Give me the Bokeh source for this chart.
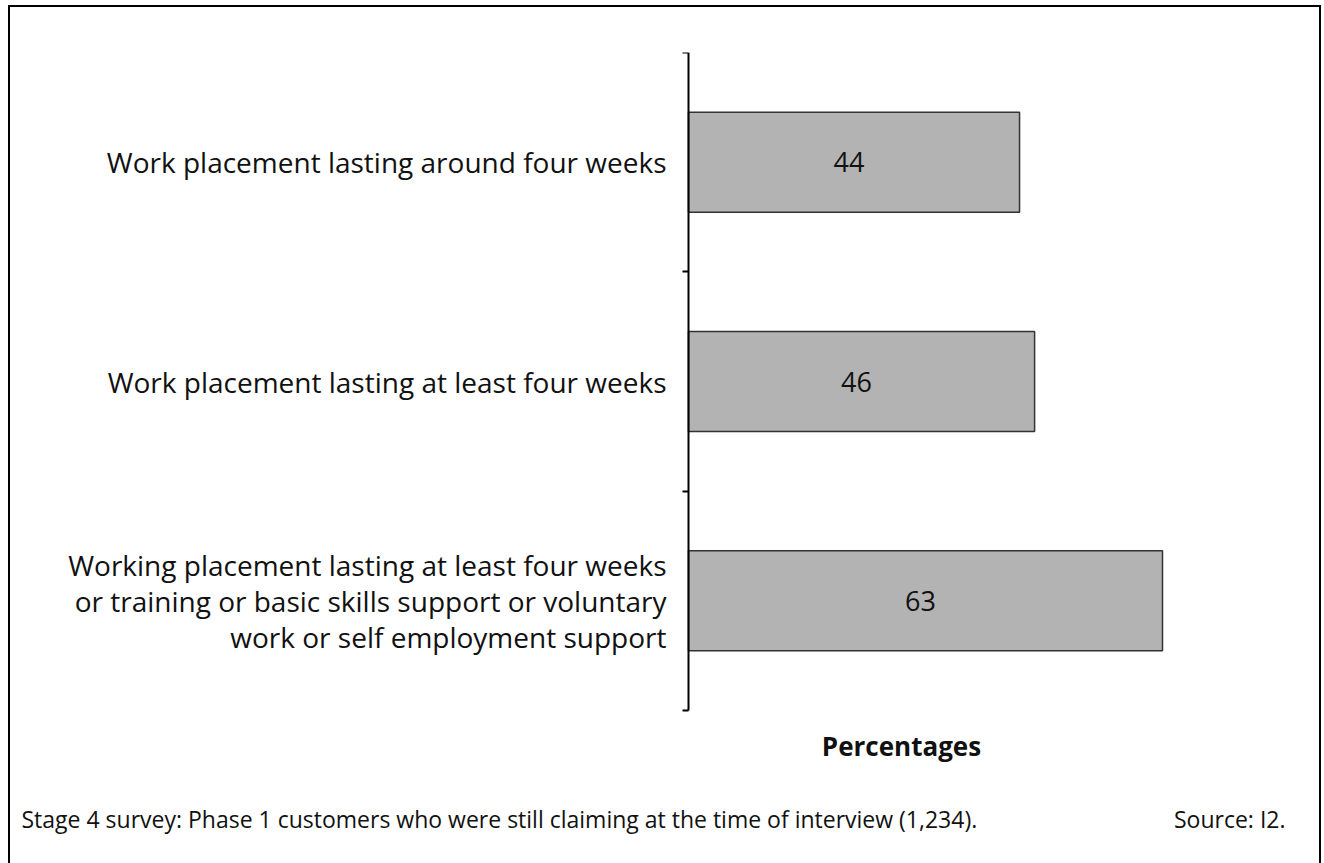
from bokeh.plotting import figure
from bokeh.models import FixedTicker, Range1d, ColumnDataSource
from bokeh.core.properties import value
from bokeh.embed import file_html
from bokeh.resources import INLINE

# ---- data ----
categories = [
    "Work placement lasting around four weeks",
    "Work placement lasting at least four weeks",
    "Working placement lasting at least four weeks\nor training or basic skills support or voluntary\nwork or self employment support",
]
values = [44, 46, 63]
x_label = "Percentages"
footnote = "Stage 4 survey: Phase 1 customers who were still claiming at the time of interview (1,234)."
source_note = "Source: I2."

FONT = "Open Sans"
TXT = "#111111"
n = len(categories)
ypos = [n - i for i in range(n)]  # first category on top

# ---- layout geometry (page pixels) ----
FIG_X, FIG_Y = 10, 7          # figure origin on the page
FIG_W, FIG_H = 1309, 856
AX_X = 688                    # page x of the value axis (0 %)
PX_PER_UNIT = (1162 - 688) / 63.0
TOP_PX, BOT_PX = 52, 710      # page y of the outer category ticks
PX_PER_CAT = (BOT_PX - TOP_PX) / n
MB_LEFT, MB_TOP = 10, TOP_PX - FIG_Y

frame_left = FIG_X + MB_LEFT
frame_right = FIG_X + FIG_W
frame_bottom = FIG_Y + FIG_H

def xd(px):
    return (px - AX_X) / PX_PER_UNIT

def yd(py):
    return 0.5 - (py - BOT_PX) / PX_PER_CAT

src = ColumnDataSource(dict(y=ypos, v=values, mid=[v / 2 for v in values],
                            lab=[str(v) for v in values], cat=categories,
                            zero=[0] * n))

p = figure(width=FIG_W, height=FIG_H, output_backend="svg", toolbar_location=None,
           x_range=Range1d(xd(frame_left), xd(frame_right)),
           y_range=Range1d(yd(frame_bottom), n + 0.5),
           min_border_left=MB_LEFT, min_border_right=0, min_border_top=MB_TOP,
           min_border_bottom=0, x_axis_type=None)
p.outline_line_color = None
p.grid.visible = False
p.background_fill_color = "white"
p.border_fill_color = "white"
p.styles = {"margin-left": f"{FIG_X}px", "margin-top": f"{FIG_Y}px",
            "outline": "2px solid #000000", "outline-offset": "0px"}

p.hbar(y="y", right="v", left=0, height=0.456, source=src,
       fill_color="#b3b3b3", line_color="#333333", line_width=1.5)
p.text(x="mid", y="y", text="lab", source=src, text_align="center",
       text_baseline="middle", text_font=value(FONT), text_font_size="27px",
       text_color=TXT, x_offset=-5)

# category labels, right-aligned against the axis
p.text(x="zero", y="y", text="cat", source=src, text_align="right",
       text_baseline="middle", text_font=value(FONT), text_font_size="28px",
       text_color=TXT, text_line_height=0.95, x_offset=-22)

# category axis drawn at x = 0, ticks between categories
yax = p.yaxis[0]
yax.fixed_location = 0
yax.bounds = (0.5, n + 0.5)
yax.ticker = FixedTicker(ticks=[], minor_ticks=[i + 0.5 for i in range(n + 1)])
yax.major_label_text_font_size = "0px"
yax.major_label_standoff = 0
yax.major_tick_out = 0
yax.major_tick_in = 0
yax.minor_tick_out = 6
yax.minor_tick_in = 0
yax.minor_tick_line_color = "#000000"
yax.minor_tick_line_width = 2
yax.axis_line_color = "#000000"
yax.axis_line_width = 2

# footer texts
p.text(x=[xd(901)], y=[yd(745)], text=[x_label], text_align="center",
       text_baseline="middle", text_font=value(FONT), text_font_size="26px",
       text_font_style="bold", text_color=TXT)
p.text(x=[xd(21)], y=[yd(818)], text=[footnote], text_align="left",
       text_baseline="middle", text_font=value(FONT), text_font_size="23px",
       text_color=TXT)
p.text(x=[xd(1285)], y=[yd(818)], text=[source_note], text_align="right",
       text_baseline="middle", text_font=value(FONT), text_font_size="23px",
       text_color=TXT)

open("out.html", "w").write(file_html(p, INLINE))
